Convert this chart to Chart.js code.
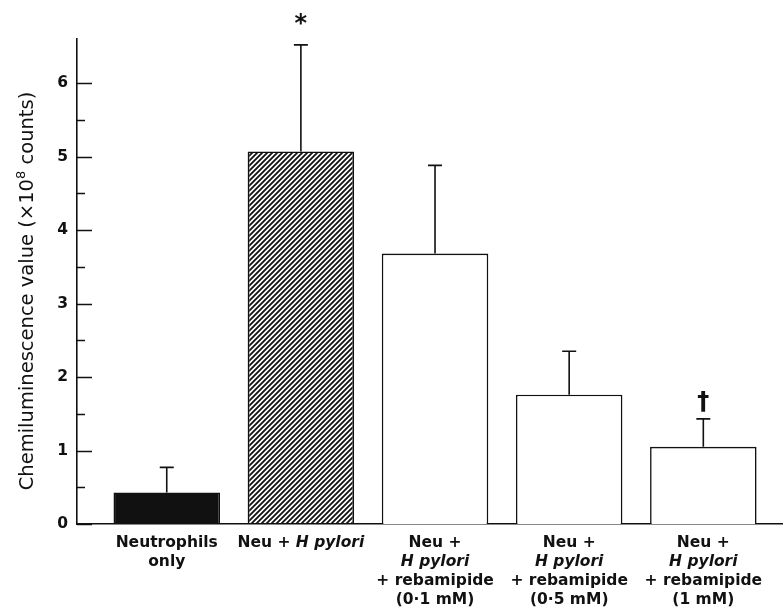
<!DOCTYPE html>
<html>
<head>
<meta charset="utf-8">
<script src="https://cdn.jsdelivr.net/npm/chart.js@4"></script>
<style>
  body { margin: 0; background: #fff; }
  canvas { display: block; }
</style>
</head>
<body>
<canvas id="chemiChart" width="783" height="608"></canvas>
<script>
// categories, _..._ marks italic text
const categories = [
    ['Neutrophils', 'only'],
    ['Neu + _H pylori_'],
    ['Neu +', '_H pylori_', '+ rebamipide', '(0·1 mM)'],
    ['Neu +', '_H pylori_', '+ rebamipide', '(0·5 mM)'],
    ['Neu +', '_H pylori_', '+ rebamipide', '(1 mM)']
];
const means = [0.43, 5.07, 3.68, 1.76, 1.05];
const errors = [0.34, 1.45, 1.20, 0.59, 0.38];
const marks = ['', '*', '', '', '†'];
const yTicks = [0, 1, 2, 3, 4, 5, 6];
const yMinorTicks = [0.5, 1.5, 2.5, 3.5, 4.5, 5.5];

const FONT = '"DejaVu Sans", sans-serif';

// hatch pattern for the H pylori bar
const tile = document.createElement('canvas');
tile.width = 5; tile.height = 5;
const tctx = tile.getContext('2d');
tctx.strokeStyle = '#111';
tctx.lineWidth = 1.8;
tctx.beginPath();
tctx.moveTo(-1, 6); tctx.lineTo(6, -1);
tctx.moveTo(-1, 1); tctx.lineTo(1, -1);
tctx.moveTo(4, 6); tctx.lineTo(6, 4);
tctx.stroke();
const ctx = document.getElementById('chemiChart').getContext('2d');
const hatch = ctx.createPattern(tile, 'repeat');

const fills = ['#111', hatch, '#fff', '#fff', '#fff'];

// error bars, significance marks, inward y ticks, x labels, y title
const extras = {
    id: 'extras',
    afterDatasetsDraw(chart) {
        const c = chart.ctx;
        const x = chart.scales.x, y = chart.scales.y;
        c.save();
        c.strokeStyle = '#111';
        c.fillStyle = '#111';
        c.lineWidth = 1.6;
        means.forEach((m, i) => {
            const px = x.getPixelForValue(i);
            const top = y.getPixelForValue(m + errors[i]);
            const base = y.getPixelForValue(m);
            c.beginPath();
            c.moveTo(px, base); c.lineTo(px, top);
            c.moveTo(px - 7, top); c.lineTo(px + 7, top);
            c.stroke();
            if (marks[i]) {
                c.font = 'bold 24px ' + FONT;
                c.textAlign = 'center';
                c.textBaseline = 'middle';
                c.fillText(marks[i], px, top - (marks[i] === '*' ? 20 : 16));
            }
        });
        // inward ticks on the y axis
        const left = chart.chartArea.left;
        c.lineWidth = 1.3;
        c.beginPath();
        yTicks.forEach(v => {
            const py = Math.round(y.getPixelForValue(v)) + 0.5;
            c.moveTo(left, py); c.lineTo(left + 15, py);
        });
        yMinorTicks.forEach(v => {
            const py = Math.round(y.getPixelForValue(v)) + 0.5;
            c.moveTo(left, py); c.lineTo(left + 8, py);
        });
        c.stroke();

        // category labels
        const bottom = chart.chartArea.bottom;
        c.textBaseline = 'middle';
        c.textAlign = 'left';
        categories.forEach((lines, i) => {
            const px = x.getPixelForValue(i);
            lines.forEach((line, j) => {
                const parts = line.split('_');
                let w = 0;
                const widths = parts.map((p, k) => {
                    c.font = (k % 2 ? 'italic ' : '') + 'bold 15.5px ' + FONT;
                    const pw = c.measureText(p).width;
                    w += pw;
                    return pw;
                });
                let cx = px - w / 2;
                const py = bottom + 19 + j * 19;
                parts.forEach((p, k) => {
                    c.font = (k % 2 ? 'italic ' : '') + 'bold 15.5px ' + FONT;
                    c.fillText(p, cx, py);
                    cx += widths[k];
                });
            });
        });

        // y axis title with superscript
        c.translate(33, 291);
        c.rotate(-Math.PI / 2);
        c.textBaseline = 'alphabetic';
        const t1 = 'Chemiluminescence value (\u00d710', t2 = '8', t3 = ' counts)';
        c.font = '19.5px ' + FONT;
        const w1 = c.measureText(t1).width, w3 = c.measureText(t3).width;
        c.font = '13px ' + FONT;
        const w2 = c.measureText(t2).width;
        let sx = -(w1 + w2 + w3) / 2;
        c.font = '19.5px ' + FONT;
        c.fillText(t1, sx, 0);
        sx += w1;
        c.font = '13px ' + FONT;
        c.fillText(t2, sx, -8);
        sx += w2;
        c.font = '19.5px ' + FONT;
        c.fillText(t3, sx, 0);
        c.restore();
    }
};

new Chart(ctx, {
    type: 'bar',
    data: {
        datasets: [{
            data: means.map((m, i) => ({ x: i, y: m })),
            backgroundColor: fills,
            borderColor: '#111',
            borderWidth: 1.6,
            borderSkipped: 'bottom',
            barPercentage: 0.794,
            categoryPercentage: 1
        }]
    },
    options: {
        responsive: false,
        animation: false,
        layout: { padding: { top: 39, right: 0, left: 0, bottom: 0 } },
        plugins: { legend: { display: false }, tooltip: { enabled: false } },
        scales: {
            x: {
                type: 'linear',
                offset: false,
                min: -0.669,
                max: 4.594,
                afterBuildTicks: s => { s.ticks = categories.map((_, i) => ({ value: i })); },
                afterFit: s => { s.height = 84; },
                ticks: { display: false },
                grid: { display: false, drawTicks: false },
                border: { display: true, color: '#111', width: 1.6 }
            },
            y: {
                min: 0,
                max: 6.6,
                afterBuildTicks: s => { s.ticks = yTicks.map(v => ({ value: v })); },
                afterFit: s => { s.width = 77; },
                ticks: {
                    color: '#111',
                    padding: 9,
                    font: { family: FONT, size: 15.5, weight: 'bold' }
                },
                grid: { display: false, drawTicks: false },
                border: { display: true, color: '#111', width: 1.6 }
            }
        }
    },
    plugins: [extras]
});
</script>
</body>
</html>
